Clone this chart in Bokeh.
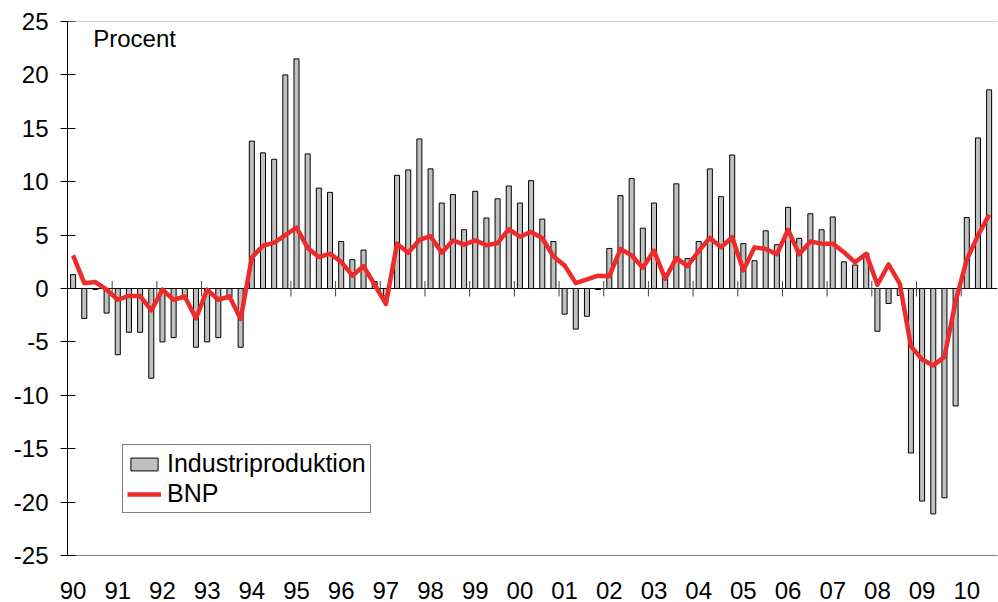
from bokeh.plotting import figure
from bokeh.models import Range1d, FixedTicker, Span, Label, Legend, LegendItem
from bokeh.embed import file_html
from bokeh.resources import INLINE

# Quarterly data 1990Q1 - 2010Q3 (annual percentage change)
years = [str(y)[-2:] for y in range(1990, 2011)]
industriproduktion = [
    1.3, -2.8, -0.1, -2.3,      # 1990
    -6.2, -4.1, -4.1, -8.4,     # 1991
    -5.0, -4.6, -0.8, -5.5,     # 1992
    -5.0, -4.6, -0.8, -5.5,     # 1993
    13.8, 12.7, 12.1, 20.0,     # 1994
    21.5, 12.6, 9.4, 9.0,       # 1995
    4.4, 2.7, 3.6, 0.65,        # 1996
    -0.7, 10.6, 11.1, 14.0,     # 1997
    11.2, 8.0, 8.8, 5.5,        # 1998
    9.1, 6.6, 8.4, 9.6,         # 1999
    8.0, 10.1, 6.5, 4.4,        # 2000
    -2.4, -3.8, -2.6, -0.1,     # 2001
    3.75, 8.7, 10.3, 5.65,      # 2002
    8.0, 1.0, 9.8, 2.8,         # 2003
    4.4, 11.2, 8.6, 12.5,       # 2004
    4.2, 2.6, 5.4, 4.1,         # 2005
    7.6, 4.7, 7.0, 5.5,         # 2006
    6.7, 2.5, 2.2, 3.3,         # 2007
    -4.0, -1.4, -0.65, -15.4,   # 2008
    -19.9, -21.1, -19.6, -11.0, # 2009
    6.65, 14.1, 18.6,           # 2010
]
bnp = [
    3.1, 0.5, 0.6, -0.1,
    -1.05, -0.7, -0.7, -2.05,
    -0.1, -1.05, -0.75, -2.8,
    -0.1, -1.05, -0.75, -2.85,
    2.9, 4.0, 4.3, 5.0,
    5.7, 3.8, 2.95, 3.25,
    2.5, 1.2, 2.1, 0.35,
    -1.45, 4.2, 3.35, 4.55,
    4.9, 3.35, 4.5, 4.1,
    4.5, 4.05, 4.25, 5.55,
    4.85, 5.3, 4.7, 3.0,
    2.15, 0.5, 0.85, 1.2,
    1.15, 3.7, 3.1, 1.95,
    3.55, 0.9, 2.85, 2.1,
    3.5, 4.75, 3.85, 4.8,
    1.7, 3.85, 3.7, 3.2,
    5.5, 3.2, 4.4, 4.2,
    4.2, 3.4, 2.45, 3.25,
    0.35, 2.25, 0.45, -5.4,
    -6.65, -7.2, -6.4, -1.2,
    2.7, 4.95, 6.9,
]
y_ticks = list(range(-25, 26, 5))

idx = list(range(len(industriproduktion)))
year_pos = [4 * i for i in range(len(years))]
boundaries = [4 * i - 0.5 for i in range(1, len(years))]

FONT = "Liberation Sans"

p = figure(width=998, height=602, output_backend="svg", toolbar_location=None,
           x_range=Range1d(-0.5, 82.75), y_range=Range1d(-25, 25),
           min_border_left=67, min_border_right=1, min_border_top=21,
           min_border_bottom=47)
p.outline_line_color = None
p.xgrid.grid_line_color = None
p.ygrid.grid_line_color = None
p.background_fill_color = "white"

# zero line
p.add_layout(Span(location=0, dimension="width", line_color="black",
                  line_width=1, level="underlay"))
# top border
p.add_layout(Span(location=25, dimension="width", line_color="#a0a0a0",
                  line_width=1))

bars = p.vbar(x=idx, top=industriproduktion, bottom=0, width=0.45,
              fill_color="#c0c0c0", line_color="black", line_width=1)

# year boundary ticks on the zero line
p.segment(x0=boundaries, x1=boundaries, y0=[-0.75] * len(boundaries),
          y1=[0.7] * len(boundaries), line_color="#404040", line_width=1)

line = p.line(idx, bnp, line_color="#ee2b2b", line_width=4.5,
              line_join="round")

# axes
p.yaxis.ticker = FixedTicker(ticks=y_ticks)
p.yaxis.major_label_overrides = {v: str(v) for v in y_ticks}
p.yaxis.major_tick_in = 8
p.yaxis.major_tick_out = 7
p.yaxis.minor_tick_line_color = None
p.yaxis.axis_line_color = "black"
p.yaxis.major_tick_line_color = "black"
p.yaxis.major_label_text_font = FONT
p.yaxis.major_label_text_font_size = "24px"
p.yaxis.major_label_text_color = "black"
p.yaxis.major_label_standoff = 12

p.xaxis.ticker = FixedTicker(ticks=year_pos)
p.xaxis.major_label_overrides = {pos: lab for pos, lab in zip(year_pos, years)}
p.xaxis.major_tick_line_color = None
p.xaxis.minor_tick_line_color = None
p.xaxis.major_tick_in = 0
p.xaxis.major_tick_out = 0
p.xaxis.axis_line_color = "#7f7f7f"
p.xaxis.major_label_text_font = FONT
p.xaxis.major_label_text_font_size = "24px"
p.xaxis.major_label_text_color = "black"
p.xaxis.major_label_text_line_height = 0.8
p.xaxis.major_label_standoff = 26

p.add_layout(Label(x=1.8, y=23.4, text="Procent", text_font=FONT,
                   text_font_size="24px", text_color="black",
                   text_baseline="alphabetic"))

legend = Legend(items=[LegendItem(label="Industriproduktion", renderers=[bars]),
                       LegendItem(label="BNP", renderers=[line])],
                location=(55, 42), orientation="vertical",
                label_text_font=FONT, label_text_font_size="25px",
                label_text_color="black", glyph_width=34, glyph_height=16,
                label_standoff=6, padding=4, spacing=1, margin=0,
                border_line_color="black", border_line_width=1,
                background_fill_color="white", background_fill_alpha=1.0)
p.add_layout(legend)

open("out.html", "w").write(file_html(p, INLINE))
